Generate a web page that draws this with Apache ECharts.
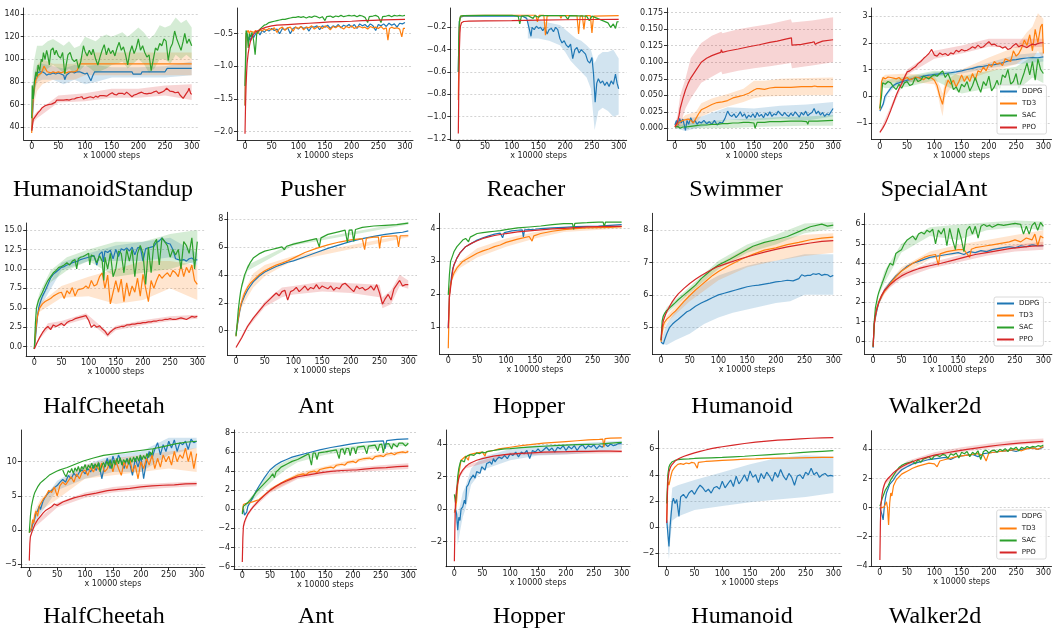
<!DOCTYPE html>
<html><head><meta charset="utf-8">
<script src="https://cdn.jsdelivr.net/npm/echarts@6/dist/echarts.min.js"></script>
<style>html,body{margin:0;padding:0;background:#fff}#c{width:1054px;height:630px}</style>
</head><body><div id="c"></div>
<script>
// ---------- shared ----------
const ALGOS = ['DDPG','TD3','SAC','PPO'];
const COLORS = ['#1f77b4','#ff7f0e','#2ca02c','#d62728'];
const BAND_FILLS = ['rgba(31,119,180,0.2)','rgba(255,127,14,0.2)','rgba(44,160,44,0.2)','rgba(214,39,40,0.2)'];
const X_TICKS = [0,50,100,150,200,250,300];
const X_LABEL = 'x 10000 steps';

// ---------- tick labels ----------
const hsYTicks=[40,60,80,100,120,140];
const puYTicks=[-2.0,-1.5,-1.0,-0.5];
const reYTicks=[-1.2,-1.0,-0.8,-0.6,-0.4,-0.2];
const swYTicks=[0,0.025,0.05,0.075,0.1,0.125,0.15,0.175];
const saYTicks=[-1,0,1,2,3];
const hc2YTicks=[0,2.5,5,7.5,10,12.5,15];
const ant2YTicks=[0,2,4,6,8];
const hop2YTicks=[1,2,3,4];
const hum2YTicks=[5,6,7,8];
const walk2YTicks=[0,1,2,3,4,5,6];
const hc3YTicks=[-5,0,5,10];
const ant3YTicks=[-6,-4,-2,0,2,4,6,8];
const hop3YTicks=[-2,0,2,4];
const hum3YTicks=[-2,0,2,4,6];
const walk3YTicks=[-4,-2,0,2,4];

// ---------- HumanoidStandup ----------
const hsDDPG=[[0,37],[2,55],[4,72],[6,81],[8,85],[10,88],[13,87],[16,89],[20,89],[24,88],[28,86],[32,87],[36,87],[40,88],[45,87],[50,88],[55,87],[60,86],[62,82],[65,86],[70,88],[75,89],[80,88],[85,89],[90,89],[95,88],[100,87],[104,88],[108,84],[111,81],[114,85],[118,89],[125,89],[150,89],[175,89],[188,89],[190,87],[205,87],[207,89],[250,89],[254,92],[300,92]];
const hsTD3=[[0,35],[2,60],[4,72],[6,78],[8,82],[10,84],[12,86],[15,85],[18,88],[20,90],[23,94],[26,93],[29,89],[32,90],[36,88],[40,89],[45,88],[50,89],[55,88],[60,89],[65,88],[70,89],[75,89],[80,89],[85,90],[88,91],[90,96],[95,96],[100,96],[150,96],[200,96],[250,96],[300,96]];
const hsSAC=[[0,48],[1,77],[3,65],[5,80],[8,89],[10,85],[12,95],[15,90],[18,100],[20,98],[22,106],[25,100],[28,108],[30,104],[33,95],[36,108],[40,110],[43,104],[46,108],[50,103],[54,101],[58,106],[62,87],[65,96],[68,104],[72,106],[76,100],[80,98],[84,100],[88,92],[92,98],[97,112],[100,107],[104,103],[108,108],[112,104],[115,109],[120,100],[124,95],[128,102],[132,108],[136,113],[140,104],[144,110],[148,105],[152,108],[156,103],[160,110],[164,115],[168,108],[172,111],[176,104],[180,95],[184,106],[188,112],[192,105],[196,110],[200,118],[204,108],[208,112],[212,106],[216,102],[220,104],[224,90],[228,100],[232,110],[236,108],[240,114],[244,112],[248,118],[252,116],[256,99],[260,110],[264,114],[268,125],[272,118],[276,113],[280,108],[284,116],[287,123],[291,114],[295,118],[300,112]];
const hsPPO=[[0,37],[1,40],[3,47],[6,49],[9,51],[12,53],[16,55],[19,57],[22,58],[25,59],[28,60.5],[31,60],[34,61],[37,60.5],[40,62],[44,62],[47,64],[50,65.5],[53,64],[56,63],[60,64],[63,63.5],[66,64.5],[70,64],[73,65.5],[76,65],[80,65],[84,66],[87,65],[90,66.5],[94,67],[97,65],[100,66],[103,66],[106,65],[110,67],[113,67],[116,66],[120,67.5],[124,66.5],[128,68],[131,69.5],[135,68],[138,67],[141,67.5],[145,69],[148,70],[151,70.5],[155,69],[159,68.5],[163,70],[166,69],[170,70],[174,69],[178,71],[182,69.5],[185,68],[188,67],[192,68.5],[196,69],[200,70],[203,70.5],[206,71],[210,70],[213,69],[216,69.5],[220,70],[224,70],[228,71],[231,71.5],[234,72],[238,70],[241,70.5],[244,71],[248,72],[251,73],[253,74.5],[256,73],[259,72],[262,73],[265,71.5],[269,70.5],[272,70],[275,71],[278,68.5],[281,67],[284,65.5],[287,67],[290,70],[293,72],[295,74.5],[298,70],[300,69]];
const hsDDPGBand=[[0,36,38],[2,50,60],[5,70,88],[10,80,95],[20,82,96],[40,82,94],[60,78,92],[80,82,95],[100,78,94],[120,80,95],[150,84,93],[200,84,93],[250,84,94],[300,86,98]];
const hsTD3Band=[[0,35,36],[2,55,65],[5,62,85],[10,72,95],[20,78,100],[30,80,98],[40,82,96],[60,82,96],[80,82,96],[90,84,100],[100,86,106],[150,86,106],[200,86,106],[250,86,106],[300,86,106]];
const hsSACBand=[[0,46,50],[2,60,90],[5,70,100],[10,82,112],[20,88,112],[30,92,116],[40,95,118],[50,92,115],[60,88,112],[70,92,116],[80,88,110],[90,90,112],[100,95,120],[110,92,118],[120,88,116],[130,90,120],[140,92,122],[150,95,120],[160,96,122],[170,98,124],[180,92,120],[190,96,124],[200,100,128],[210,96,124],[220,88,118],[230,92,122],[240,100,130],[250,100,128],[260,96,130],[270,104,137],[280,100,132],[290,104,135],[300,100,128]];
const hsPPOBand=[[0,35,40],[3,44,50],[10,48,54],[50,62,68],[100,63,70],[150,66,74],[200,66,74],[250,68,77],[300,64,78]];

// ---------- Pusher ----------
const puDDPG=[[0,-1.6],[2,-0.55],[4,-0.5],[6,-0.6],[8,-0.55],[10,-0.62],[13,-0.5],[16,-0.56],[20,-0.5],[24,-0.46],[28,-0.52],[32,-0.45],[36,-0.48],[40,-0.44],[45,-0.46],[50,-0.42],[55,-0.45],[60,-0.43],[65,-0.5],[70,-0.42],[75,-0.44],[80,-0.41],[85,-0.5],[90,-0.42],[95,-0.4],[100,-0.43],[105,-0.39],[110,-0.42],[115,-0.4],[120,-0.46],[125,-0.39],[130,-0.4],[135,-0.38],[140,-0.44],[145,-0.38],[150,-0.4],[155,-0.37],[160,-0.42],[165,-0.38],[170,-0.4],[175,-0.36],[180,-0.41],[185,-0.37],[190,-0.39],[195,-0.36],[200,-0.4],[205,-0.36],[210,-0.42],[215,-0.35],[220,-0.38],[225,-0.36],[230,-0.4],[235,-0.35],[240,-0.38],[245,-0.45],[250,-0.36],[255,-0.38],[260,-0.35],[265,-0.39],[270,-0.34],[275,-0.37],[280,-0.35],[285,-0.4],[290,-0.34],[295,-0.35],[300,-0.33]];
const puTD3=[[0,-1.6],[2,-0.5],[4,-0.48],[6,-0.45],[8,-0.5],[10,-0.46],[13,-0.44],[16,-0.48],[20,-0.45],[24,-0.5],[28,-0.44],[32,-0.46],[36,-0.43],[40,-0.45],[45,-0.42],[50,-0.44],[55,-0.41],[60,-0.48],[65,-0.42],[70,-0.4],[75,-0.45],[80,-0.41],[85,-0.4],[90,-0.46],[95,-0.4],[100,-0.42],[105,-0.39],[110,-0.44],[115,-0.4],[120,-0.41],[125,-0.38],[130,-0.43],[135,-0.4],[140,-0.39],[145,-0.42],[150,-0.38],[155,-0.4],[160,-0.44],[165,-0.39],[170,-0.41],[175,-0.38],[180,-0.4],[185,-0.43],[190,-0.39],[195,-0.41],[200,-0.38],[205,-0.42],[210,-0.4],[215,-0.39],[220,-0.41],[225,-0.4],[230,-0.43],[235,-0.39],[240,-0.41],[245,-0.4],[250,-0.42],[255,-0.39],[260,-0.43],[265,-0.41],[268,-0.6],[271,-0.42],[275,-0.4],[280,-0.42],[285,-0.41],[290,-0.43],[294,-0.55],[297,-0.42],[300,-0.42]];
const puSAC=[[0,-1.3],[2,-0.45],[4,-0.5],[6,-0.72],[8,-0.5],[10,-0.55],[13,-0.48],[16,-0.6],[19,-0.82],[22,-0.5],[25,-0.47],[28,-0.43],[32,-0.4],[36,-0.37],[40,-0.36],[45,-0.33],[50,-0.32],[55,-0.31],[60,-0.3],[65,-0.29],[70,-0.28],[75,-0.28],[80,-0.27],[85,-0.26],[90,-0.25],[95,-0.25],[100,-0.24],[105,-0.25],[110,-0.24],[115,-0.26],[120,-0.24],[125,-0.25],[130,-0.23],[135,-0.24],[140,-0.26],[145,-0.24],[150,-0.3],[153,-0.24],[160,-0.23],[165,-0.25],[170,-0.23],[175,-0.24],[180,-0.22],[185,-0.24],[190,-0.23],[195,-0.22],[200,-0.23],[205,-0.22],[210,-0.24],[215,-0.22],[220,-0.23],[225,-0.25],[230,-0.33],[233,-0.24],[240,-0.23],[245,-0.22],[250,-0.24],[255,-0.33],[258,-0.24],[265,-0.23],[270,-0.22],[275,-0.24],[280,-0.22],[285,-0.23],[290,-0.22],[295,-0.23],[300,-0.22]];
const puPPO=[[0,-2.03],[1,-1.6],[2,-1.3],[3,-1.1],[4,-0.95],[6,-0.8],[8,-0.7],[10,-0.62],[15,-0.52],[20,-0.47],[25,-0.45],[30,-0.43],[40,-0.4],[50,-0.38],[60,-0.37],[80,-0.36],[100,-0.35],[120,-0.34],[140,-0.33],[160,-0.32],[180,-0.315],[200,-0.31],[220,-0.3],[240,-0.295],[260,-0.29],[280,-0.285],[300,-0.28]];

// ---------- Reacher ----------
const reDDPG=[[0,-0.6],[1,-0.3],[2,-0.15],[4,-0.11],[6,-0.105],[10,-0.1],[50,-0.1],[100,-0.1],[120,-0.1],[128,-0.12],[132,-0.2],[136,-0.28],[138,-0.2],[142,-0.22],[146,-0.19],[150,-0.21],[154,-0.2],[158,-0.23],[162,-0.2],[166,-0.26],[170,-0.22],[174,-0.21],[178,-0.24],[182,-0.2],[186,-0.22],[190,-0.3],[194,-0.34],[198,-0.32],[202,-0.36],[206,-0.38],[210,-0.35],[214,-0.48],[218,-0.4],[222,-0.38],[226,-0.43],[230,-0.4],[234,-0.42],[238,-0.44],[242,-0.5],[246,-0.52],[250,-0.47],[253,-0.62],[256,-0.87],[259,-0.7],[262,-0.66],[266,-0.7],[270,-0.68],[274,-0.72],[278,-0.69],[282,-0.73],[286,-0.68],[290,-0.71],[294,-0.62],[297,-0.7],[300,-0.75]];
const reTD3=[[0,-0.85],[1,-0.5],[2,-0.2],[3,-0.12],[5,-0.1],[10,-0.095],[50,-0.093],[100,-0.092],[110,-0.092],[113,-0.1],[116,-0.092],[145,-0.092],[148,-0.15],[151,-0.093],[160,-0.093],[163,-0.27],[166,-0.1],[170,-0.095],[190,-0.095],[192,-0.12],[194,-0.095],[222,-0.095],[225,-0.26],[228,-0.1],[232,-0.095],[235,-0.22],[238,-0.095],[247,-0.095],[250,-0.25],[253,-0.1],[300,-0.095]];
const reSAC=[[0,-0.6],[1,-0.3],[2,-0.15],[4,-0.1],[10,-0.095],[50,-0.093],[100,-0.092],[112,-0.1],[115,-0.17],[118,-0.1],[130,-0.095],[140,-0.12],[143,-0.095],[150,-0.11],[155,-0.095],[200,-0.095],[205,-0.13],[208,-0.095],[240,-0.1],[245,-0.14],[250,-0.1],[260,-0.12],[270,-0.14],[280,-0.16],[285,-0.2],[290,-0.17],[294,-0.21],[297,-0.15],[300,-0.15]];
const rePPO=[[0,-1.15],[1,-0.7],[2,-0.4],[3,-0.25],[4,-0.19],[6,-0.16],[8,-0.15],[10,-0.148],[20,-0.145],[50,-0.142],[100,-0.14],[150,-0.135],[200,-0.132],[250,-0.13],[300,-0.128]];
const reDDPGBand=[[130,-0.3,-0.12],[150,-0.3,-0.14],[170,-0.32,-0.16],[190,-0.36,-0.18],[200,-0.42,-0.22],[210,-0.5,-0.26],[220,-0.55,-0.3],[230,-0.6,-0.32],[240,-0.65,-0.36],[248,-0.75,-0.4],[255,-1.12,-0.52],[262,-0.95,-0.45],[270,-0.92,-0.42],[280,-0.95,-0.42],[290,-1.0,-0.4],[300,-0.98,-0.48]];

// ---------- Swimmer ----------
const swDDPG=[[0,0.005],[3,0.012],[6,0.005],[9,0.015],[12,0.008],[15,0.014],[18,0.004],[20,-0.003],[23,0.012],[26,0.006],[30,0.016],[34,0.008],[38,0.012],[42,0.006],[46,0.01],[50,0.008],[55,0.012],[60,0.007],[65,0.01],[70,0.006],[75,0.012],[80,0.005],[85,0.009],[90,0.008],[95,0.015],[100,0.026],[104,0.02],[108,0.018],[112,0.022],[116,0.016],[120,0.02],[124,0.025],[128,0.018],[132,0.022],[136,0.015],[140,0.02],[144,0.017],[148,0.022],[152,0.016],[156,0.024],[160,0.018],[164,0.021],[168,0.016],[172,0.023],[176,0.019],[180,0.025],[184,0.018],[188,0.022],[192,0.02],[196,0.026],[200,0.022],[204,0.019],[208,0.024],[212,0.02],[216,0.018],[220,0.023],[224,0.019],[228,0.025],[232,0.021],[236,0.017],[240,0.024],[244,0.02],[248,0.026],[252,0.019],[256,0.022],[260,0.024],[264,0.03],[268,0.022],[272,0.026],[276,0.02],[280,0.024],[284,0.018],[288,0.022],[292,0.02],[296,0.025],[300,0.03]];
const swTD3=[[0,0.003],[5,0.006],[10,0.01],[15,0.012],[20,0.013],[25,0.014],[30,0.012],[35,0.008],[40,0.015],[45,0.022],[50,0.028],[55,0.03],[60,0.032],[70,0.036],[80,0.039],[90,0.04],[100,0.042],[110,0.046],[120,0.048],[130,0.05],[140,0.053],[150,0.058],[155,0.06],[160,0.06],[170,0.059],[180,0.061],[190,0.062],[200,0.062],[220,0.062],[240,0.063],[260,0.063],[265,0.064],[270,0.063],[280,0.063],[300,0.063]];
const swSAC=[[0,0.002],[5,0.003],[10,0.0],[15,0.002],[20,0.002],[30,0.003],[40,0.004],[50,0.005],[60,0.005],[70,0.006],[80,0.006],[90,0.007],[100,0.007],[110,0.008],[120,0.008],[130,0.009],[140,0.009],[150,0.008],[152,0.0],[154,0.0],[156,0.009],[170,0.009],[180,0.01],[200,0.01],[220,0.011],[240,0.011],[250,0.01],[252,0.006],[254,0.011],[270,0.011],[300,0.012]];
const swPPO=[[0,0.002],[3,0.004],[5,0.01],[8,0.02],[10,0.03],[15,0.045],[20,0.058],[25,0.068],[30,0.076],[40,0.088],[50,0.1],[60,0.106],[70,0.11],[80,0.113],[87,0.115],[88,0.119],[90,0.115],[100,0.117],[120,0.12],[140,0.1235],[160,0.1265],[180,0.13],[194,0.132],[196,0.129],[200,0.133],[210,0.135],[221,0.137],[222,0.126],[240,0.127],[260,0.13],[264,0.131],[266,0.127],[270,0.129],[280,0.132],[300,0.134]];
const swDDPGBand=[[0,0,0.01],[20,-0.004,0.015],[50,0.002,0.018],[100,0.013,0.032],[150,0.012,0.03],[200,0.015,0.034],[250,0.012,0.036],[300,0.018,0.04]];
const swTD3Band=[[0,0,0.005],[20,0.005,0.02],[40,0.008,0.025],[50,0.018,0.038],[70,0.025,0.045],[100,0.033,0.052],[130,0.04,0.06],[150,0.046,0.072],[170,0.048,0.072],[200,0.049,0.075],[250,0.05,0.076],[300,0.05,0.077]];
const swSACBand=[[0,0,0.004],[50,0,0.01],[100,0.0,0.013],[150,0.002,0.015],[200,0.003,0.017],[250,0.004,0.018],[300,0.004,0.02]];
const swPPOBand=[[0,0,0.005],[5,0.0,0.02],[10,0.005,0.05],[20,0.03,0.075],[30,0.045,0.106],[50,0.069,0.129],[70,0.078,0.14],[88,0.086,0.146],[90,0.082,0.144],[120,0.087,0.15],[150,0.091,0.154],[180,0.094,0.158],[220,0.099,0.165],[222,0.091,0.16],[260,0.095,0.163],[300,0.1,0.168]];

// ---------- SpecialAnt ----------
const saDDPG=[[0,-0.55],[3,-0.6],[6,-0.3],[9,-0.02],[12,0.08],[15,0.16],[18,0.25],[21,0.33],[25,0.4],[30,0.47],[35,0.5],[40,0.54],[45,0.57],[50,0.6],[55,0.62],[60,0.66],[65,0.68],[70,0.7],[75,0.72],[80,0.75],[85,0.77],[90,0.79],[95,0.8],[100,0.82],[110,0.84],[120,0.85],[130,0.88],[140,0.91],[150,0.95],[160,1.0],[170,1.04],[180,1.1],[190,1.12],[200,1.16],[210,1.18],[220,1.22],[230,1.28],[240,1.35],[250,1.37],[260,1.41],[270,1.43],[280,1.45],[290,1.44],[300,1.47]];
const saTD3=[[0,-0.5],[3,0.54],[6,0.7],[10,0.65],[15,0.72],[20,0.7],[25,0.68],[30,0.65],[35,0.7],[40,0.6],[45,0.66],[50,0.7],[55,0.62],[60,0.65],[65,0.72],[70,0.7],[75,0.66],[80,0.62],[85,0.7],[90,0.72],[95,0.68],[100,0.6],[105,0.4],[110,0.0],[115,-0.3],[118,-0.25],[120,0.3],[125,0.6],[130,0.45],[135,0.6],[140,0.35],[145,0.55],[150,0.8],[155,0.55],[160,0.75],[165,0.55],[170,0.85],[175,0.6],[180,0.95],[185,0.9],[190,1.1],[195,0.95],[200,1.2],[205,1.1],[210,1.3],[215,1.2],[220,1.25],[225,1.15],[230,1.4],[235,1.35],[240,1.3],[245,1.7],[250,1.5],[255,1.6],[260,1.8],[265,2.1],[270,1.9],[275,2.3],[280,1.7],[285,2.5],[290,2.0],[295,2.6],[298,2.7],[300,1.6]];
const saSAC=[[0,-0.45],[3,0.0],[5,0.5],[10,0.45],[15,0.55],[20,0.5],[25,0.35],[30,0.25],[35,0.45],[40,0.3],[45,0.5],[50,0.55],[55,0.4],[60,0.45],[65,0.7],[70,0.55],[75,0.6],[80,0.75],[85,0.7],[90,0.65],[95,0.75],[100,0.8],[105,0.75],[110,0.85],[115,0.95],[120,0.7],[125,0.85],[130,0.6],[135,0.25],[140,0.35],[145,0.15],[150,0.45],[155,0.35],[160,0.55],[165,0.2],[170,0.4],[175,0.7],[180,0.4],[185,0.15],[190,0.55],[195,0.4],[200,0.75],[205,0.2],[210,0.35],[215,0.6],[220,0.3],[225,0.8],[230,0.7],[235,1.0],[240,0.45],[245,0.55],[250,0.85],[255,0.3],[260,0.6],[265,0.9],[270,1.25],[275,0.8],[280,1.3],[285,0.6],[290,1.4],[295,1.0],[300,0.85]];
const saPPO=[[0,-1.35],[5,-1.2],[10,-1.02],[15,-0.78],[20,-0.52],[25,-0.24],[30,0.04],[35,0.27],[40,0.48],[45,0.7],[50,0.91],[55,0.95],[60,1.04],[65,1.1],[70,1.22],[75,1.3],[80,1.41],[85,1.5],[90,1.6],[95,1.75],[100,1.54],[105,1.5],[110,1.62],[115,1.55],[120,1.6],[125,1.52],[130,1.62],[135,1.58],[140,1.72],[145,1.66],[150,1.75],[155,1.7],[160,1.72],[165,1.78],[170,1.85],[175,1.8],[180,1.91],[185,1.82],[190,1.85],[195,1.95],[200,2.04],[205,1.92],[210,1.95],[215,1.88],[220,1.87],[225,1.8],[230,1.85],[235,1.75],[240,1.79],[245,1.9],[250,1.97],[255,1.85],[260,1.91],[265,1.86],[270,1.82],[275,1.9],[280,1.95],[285,1.92],[290,1.97],[295,2.0],[300,2.0]];
const saDDPGBand=[[0,-0.6,-0.5],[6,-0.4,-0.2],[15,0.08,0.24],[30,0.4,0.55],[50,0.5,0.7],[100,0.72,0.9],[150,0.85,1.0],[200,1.05,1.25],[250,1.2,1.55],[300,1.3,1.65]];
const saTD3Band=[[0,-0.55,-0.45],[3,0.4,0.7],[10,0.5,0.8],[50,0.55,0.85],[100,0.45,0.75],[105,0.2,0.6],[112,-0.5,0.3],[115,-0.75,0.1],[120,0.0,0.6],[130,0.3,0.7],[150,0.55,1.0],[200,0.9,1.45],[250,1.2,1.85],[270,1.5,2.4],[280,1.4,2.6],[290,1.7,3.1],[300,1.4,2.9]];
const saSACBand=[[0,-0.5,-0.4],[5,0.35,0.65],[10,0.3,0.6],[50,0.35,0.75],[100,0.6,0.95],[130,0.3,0.9],[150,0.1,0.75],[200,0.3,0.95],[250,0.2,1.1],[280,0.7,1.5],[300,0.5,1.4]];
const saPPOBand=[[0,-1.4,-1.3],[25,-0.35,-0.13],[50,0.8,1.0],[100,1.4,1.7],[150,1.6,1.9],[200,1.85,2.15],[250,1.8,2.15],[300,1.85,2.15]];

// ---------- HalfCheetah (row 2) ----------
const hc2DDPG=[[0,-0.3],[2,1],[4,2.5],[6,4],[8,5],[10,5.5],[15,6.5],[20,7.2],[25,8],[30,8.8],[35,9.3],[40,9.6],[45,9.9],[50,10.2],[55,10.3],[60,10.5],[65,10.6],[70,10.8],[75,10.9],[80,11],[85,11.2],[90,11.3],[95,11.4],[100,11.5],[105,11.6],[110,11.7],[115,10.5],[120,11.9],[125,12.2],[127,10.9],[130,12.3],[135,12.1],[140,12.4],[145,11.3],[150,12.5],[155,11.6],[160,12.6],[165,12.4],[170,12.7],[175,12.3],[180,12.8],[185,11.8],[190,12.7],[195,12.8],[200,11.0],[205,12.6],[210,12.7],[215,12.8],[220,12.9],[225,13.4],[230,13.6],[235,14.0],[240,13.5],[245,13.3],[250,13.2],[255,12.5],[260,11.3],[265,11.2],[270,11.1],[275,11.2],[280,11.0],[285,11.3],[290,11.4],[295,11.1],[300,11.2]];
const hc2TD3=[[0,-0.3],[2,1.5],[4,3],[6,4],[8,4.5],[10,5],[15,5.5],[20,5.8],[25,6],[30,6.2],[35,6.5],[40,6.7],[45,6.9],[50,7],[55,6.2],[60,7.2],[65,6.8],[70,7.6],[75,6.5],[80,7.3],[85,7.4],[90,7.5],[95,7.8],[100,7.5],[105,8.5],[110,7.8],[115,8],[120,9],[125,9.5],[130,7.5],[135,9.2],[140,5.5],[145,7],[150,8.5],[155,7],[160,8.7],[165,5.8],[170,8.2],[175,6.5],[180,7.8],[185,7],[190,8.8],[195,6.5],[200,9.3],[205,7.5],[210,5.8],[215,8.5],[220,7.5],[225,8.5],[230,9.3],[235,8.8],[240,9.2],[245,9.5],[250,9],[255,9.8],[260,9.5],[265,9],[270,10.5],[275,9],[280,10.2],[285,9.5],[290,10.5],[295,8.5],[300,8]];
const hc2SAC=[[0,-0.3],[2,3],[4,5],[6,5.5],[8,6],[10,6.2],[15,7],[20,7.8],[25,8.5],[30,9],[35,9.5],[40,9.8],[45,10.2],[50,10.3],[55,10.5],[60,10.8],[65,10.5],[70,11],[75,11.2],[78,10.0],[81,11.3],[85,11.5],[90,11.6],[95,11.8],[100,12],[102,10.5],[105,11.8],[110,11.6],[115,10.8],[120,11.7],[125,11],[128,8.5],[130,11.5],[135,10],[140,12],[145,9],[150,10],[155,12.3],[160,12],[165,9.5],[170,12.5],[175,11],[180,12.5],[185,9],[190,12],[195,13],[200,12],[205,8],[210,12.8],[215,9.5],[220,13.2],[225,13.8],[230,10.5],[235,14],[240,13.5],[245,13],[250,11.5],[255,12.5],[260,11.8],[265,12.5],[270,10],[275,13.5],[280,13],[285,12],[290,14],[295,10],[300,13.5]];
const hc2PPO=[[0,-0.3],[5,0.5],[10,1.2],[15,1.8],[20,2.3],[25,2.6],[30,2.2],[35,2.8],[40,2.6],[45,2.8],[50,3],[55,2.7],[60,3.1],[65,3.3],[70,3.4],[75,3.6],[80,3.7],[85,3.8],[90,3.9],[95,4.0],[100,3.4],[105,2.5],[110,2.8],[115,2.5],[120,2.7],[125,2.3],[130,2.0],[135,1.5],[140,1.9],[145,2.2],[150,2.4],[155,2.5],[160,2.6],[165,2.6],[170,2.8],[175,2.8],[180,2.9],[185,2.9],[190,3.0],[195,3.0],[200,3.1],[205,3.1],[210,3.2],[215,3.2],[220,3.3],[225,3.3],[230,3.4],[235,3.4],[240,3.5],[245,3.5],[250,3.6],[255,3.5],[260,3.5],[265,3.6],[270,3.7],[275,3.6],[280,3.5],[285,3.7],[290,3.9],[295,3.8],[300,3.9]];
const hc2DDPGBand=[[0,-0.3,-0.2],[2,0.8,1.2],[4,2.2,2.8],[6,3.6,4.4],[10,5,6],[50,9.8,10.8],[100,11,12],[150,11,13],[200,11,13.5],[250,11.5,14],[300,10.5,12]];
const hc2TD3Band=[[0,-0.3,-0.2],[2,1.2,1.8],[4,2.6,3.4],[6,3.5,4.5],[10,4.5,5.6],[50,6.3,7.8],[100,6.5,9],[150,5.5,10],[200,6,11],[250,7.5,11],[300,6,10.5]];
const hc2SACBand=[[0,-0.3,-0.2],[2,2.6,3.4],[4,4.5,5.5],[6,5,6],[10,5.5,7],[30,8.3,9.8],[60,9.8,11.5],[100,11,12.5],[150,9,13.5],[200,9.5,13.5],[250,10,14.5],[300,11,15]];
const hc2PPOBand=[[0,-0.3,-0.2],[10,1.0,1.4],[25,2.2,3],[50,2.7,3.3],[95,3.6,4.3],[135,1.2,1.9],[150,2.1,2.7],[200,2.8,3.4],[250,3.3,3.9],[300,3.6,4.1]];

// ---------- Ant (row 2) ----------
const ant2DDPG=[[0,-0.3],[2,0.3],[4,0.8],[6,1.3],[8,1.7],[10,2.0],[15,2.5],[20,2.9],[25,3.2],[30,3.5],[40,3.9],[50,4.2],[60,4.4],[70,4.6],[80,4.75],[90,4.9],[100,5.0],[120,5.3],[140,5.6],[160,5.9],[180,6.15],[200,6.4],[220,6.6],[240,6.75],[260,6.9],[270,6.95],[280,7.0],[290,7.05],[300,7.15]];
const ant2TD3=[[0,-0.4],[2,0.4],[4,0.9],[6,1.4],[8,1.8],[10,2.1],[15,2.7],[20,3.1],[25,3.4],[30,3.6],[40,4.0],[50,4.3],[60,4.5],[70,4.7],[80,4.85],[90,5.0],[100,5.2],[120,5.6],[140,5.9],[160,6.15],[180,6.35],[200,6.5],[220,6.6],[224,5.8],[227,6.62],[240,6.7],[248,6.7],[250,5.9],[253,6.72],[260,6.75],[280,6.8],[283,6.0],[286,6.8],[300,6.8]];
const ant2SAC=[[0,-0.4],[2,0.5],[4,1.5],[6,2.2],[8,2.8],[10,3.2],[15,4.0],[20,4.5],[25,4.9],[30,5.2],[40,5.5],[50,5.7],[60,5.8],[70,5.9],[80,6.0],[84,5.8],[88,6.05],[100,6.2],[120,6.4],[140,6.6],[145,6.0],[148,6.65],[160,6.9],[180,7.1],[190,7.2],[194,6.3],[197,7.2],[202,7.22],[205,6.4],[208,7.25],[220,7.4],[240,7.5],[260,7.55],[280,7.6],[300,7.7]];
const ant2PPO=[[0,-1.2],[10,-0.5],[20,0.3],[30,0.9],[40,1.4],[50,1.9],[60,2.3],[65,2.5],[70,2.7],[75,2.5],[80,2.8],[85,2.9],[90,2.2],[95,2.8],[100,2.9],[105,3.1],[110,2.8],[115,3.0],[120,3.2],[125,2.9],[130,3.1],[135,3.0],[140,3.3],[145,3.0],[150,3.2],[155,3.1],[160,3.0],[165,3.2],[170,2.9],[175,3.1],[180,3.0],[185,3.3],[190,3.4],[195,3.2],[200,3.0],[205,2.8],[210,3.2],[215,3.0],[220,3.1],[225,2.9],[230,3.0],[235,3.2],[240,2.9],[245,3.3],[250,2.7],[255,1.9],[260,2.3],[265,2.6],[270,2.2],[275,3.0],[280,3.3],[285,3.6],[290,3.2],[295,3.3],[300,3.3]];
const ant2TD3Band=[[0,-0.4,-0.3],[4,0.7,1.1],[10,1.7,2.5],[30,3.1,4.1],[50,3.9,4.7],[80,4.6,5.1],[100,5.0,5.35],[300,6.7,6.9]];
const ant2SACBand=[[0,-0.4,-0.3],[4,1.3,1.7],[10,3.0,3.4],[20,4.3,4.7],[100,6.1,6.3],[300,7.6,7.8]];
const ant2PPOBand=[[0,-1.2,-1.1],[20,0.15,0.45],[50,1.7,2.1],[80,2.4,3.1],[100,2.6,3.2],[150,2.8,3.5],[200,2.7,3.4],[250,2.4,3.3],[255,1.6,2.4],[270,1.9,2.9],[285,3.2,4.0],[300,3.0,3.6]];

// ---------- Hopper (row 2) ----------
const hop2DDPG=[[0,0.96],[2,2.0],[4,2.3],[6,2.6],[8,2.8],[10,2.9],[15,3.1],[20,3.25],[25,3.35],[30,3.45],[40,3.55],[50,3.65],[60,3.72],[70,3.78],[80,3.83],[90,3.86],[94,3.72],[97,3.88],[100,3.9],[110,3.93],[120,3.95],[128,3.96],[130,3.75],[132,3.96],[140,3.97],[150,3.98],[160,4.0],[180,4.02],[200,4.04],[220,4.06],[240,4.07],[260,4.08],[280,4.1],[300,4.12]];
const hop2TD3=[[0,0.35],[2,2.0],[4,2.3],[6,2.45],[8,2.55],[10,2.65],[15,2.8],[20,2.9],[25,3.0],[30,3.05],[40,3.15],[50,3.25],[60,3.32],[70,3.38],[80,3.45],[90,3.5],[100,3.58],[120,3.68],[140,3.76],[145,3.62],[148,3.78],[160,3.85],[180,3.92],[200,3.97],[220,4.0],[240,4.02],[260,4.03],[280,4.04],[300,4.06]];
const hop2SAC=[[0,1.98],[2,2.6],[4,3.0],[6,3.1],[8,3.2],[10,3.3],[15,3.45],[20,3.55],[25,3.65],[30,3.7],[35,3.6],[38,3.74],[40,3.78],[50,3.85],[60,3.88],[70,3.9],[80,3.92],[90,3.94],[100,3.97],[120,4.02],[140,4.05],[160,4.08],[180,4.12],[200,4.15],[215,4.15],[217,3.98],[219,4.16],[240,4.18],[260,4.2],[268,4.2],[270,4.05],[272,4.2],[300,4.2]];
const hop2PPO=[[0,0.96],[2,1.9],[4,2.2],[6,2.5],[8,2.75],[10,2.9],[15,3.1],[20,3.25],[25,3.35],[30,3.45],[40,3.55],[50,3.63],[60,3.7],[70,3.75],[80,3.79],[90,3.82],[100,3.85],[120,3.9],[140,3.93],[160,3.96],[180,3.99],[200,4.01],[220,4.03],[240,4.05],[260,4.06],[280,4.07],[300,4.07]];
const hop2TD3Band=[[0,0.35,0.4],[2,1.9,2.1],[6,2.35,2.55],[10,2.55,2.75],[20,2.8,3.0],[50,3.12,3.4],[100,3.45,3.7],[150,3.7,3.9],[200,3.9,4.03],[300,4.0,4.12]];

// ---------- Humanoid (row 2) ----------
const hum2DDPG=[[0,4.55],[2,4.5],[4,4.48],[6,4.6],[8,4.7],[10,4.8],[15,5.0],[20,5.1],[25,5.18],[30,5.25],[40,5.4],[45,5.48],[50,5.52],[60,5.65],[70,5.75],[80,5.83],[90,5.92],[100,6.0],[110,6.05],[120,6.1],[130,6.15],[140,6.2],[150,6.25],[160,6.28],[170,6.3],[180,6.33],[190,6.36],[200,6.4],[210,6.42],[220,6.45],[230,6.43],[240,6.5],[245,6.62],[250,6.58],[255,6.6],[260,6.6],[265,6.65],[270,6.63],[275,6.66],[280,6.6],[285,6.63],[290,6.62],[295,6.56],[300,6.6]];
const hum2TD3=[[0,4.55],[2,4.85],[4,5.05],[6,5.15],[8,5.2],[10,5.25],[15,5.33],[20,5.42],[25,5.5],[30,5.6],[40,5.8],[50,5.98],[60,6.15],[70,6.3],[80,6.45],[90,6.6],[100,6.72],[120,6.92],[140,7.1],[160,7.25],[180,7.38],[200,7.45],[220,7.55],[240,7.62],[260,7.7],[280,7.75],[300,7.78]];
const hum2SAC=[[0,4.6],[2,5.2],[4,5.35],[6,5.42],[8,5.48],[10,5.52],[15,5.6],[20,5.68],[25,5.76],[30,5.85],[40,6.0],[50,6.15],[60,6.3],[70,6.5],[80,6.65],[90,6.8],[100,6.92],[120,7.1],[140,7.3],[160,7.5],[180,7.62],[200,7.7],[220,7.8],[240,7.95],[260,8.1],[280,8.18],[290,8.12],[300,8.15]];
const hum2PPO=[[0,4.6],[2,5.0],[4,5.2],[6,5.3],[8,5.4],[10,5.48],[15,5.65],[20,5.8],[25,5.92],[30,6.03],[40,6.2],[50,6.35],[60,6.48],[70,6.6],[80,6.7],[90,6.8],[100,6.88],[120,7.0],[140,7.12],[160,7.22],[180,7.32],[200,7.4],[220,7.48],[240,7.54],[260,7.6],[280,7.65],[300,7.67]];
const hum2DDPGBand=[[0,4.5,4.6],[10,4.45,5.1],[25,4.6,5.5],[50,4.8,6.0],[75,5.1,6.35],[100,5.3,6.6],[125,5.45,6.75],[150,5.55,6.9],[175,5.65,7.0],[200,5.75,7.05],[225,5.8,7.15],[250,6.0,7.25],[275,6.0,7.25],[300,6.0,7.25]];
const hum2TD3Band=[[0,4.5,4.6],[2,4.75,4.95],[10,5.15,5.35],[50,5.8,6.15],[100,6.45,6.95],[150,6.85,7.45],[200,7.05,7.7],[250,7.2,7.85],[300,7.3,7.9]];
const hum2SACBand=[[0,4.55,4.65],[2,5.1,5.3],[10,5.42,5.62],[25,5.66,5.86],[50,6.05,6.25],[100,6.8,7.05],[150,7.3,7.55],[200,7.55,7.85],[250,7.9,8.2],[300,8.05,8.25]];

// ---------- Walker2d (row 2) ----------
const walk2DDPG=[[0,-0.35],[2,0.9],[4,1.2],[6,1.5],[8,1.75],[10,1.95],[15,2.3],[20,2.6],[25,2.8],[30,3.0],[40,3.35],[50,3.6],[60,3.85],[70,4.0],[80,4.1],[90,4.2],[100,4.3],[110,4.35],[120,4.4],[130,4.45],[140,4.5],[150,4.55],[160,4.45],[170,4.6],[180,4.55],[190,4.65],[200,4.6],[210,4.7],[220,4.75],[230,4.8],[240,4.85],[250,4.8],[260,4.9],[270,4.85],[280,4.95],[290,4.9],[300,4.9]];
const walk2TD3=[[0,-0.3],[2,0.8],[4,1.3],[6,1.6],[8,1.8],[10,2.0],[15,2.3],[20,2.55],[25,2.75],[30,2.95],[40,3.3],[50,3.6],[60,3.8],[70,4.0],[80,4.15],[90,4.3],[100,4.4],[110,4.45],[115,3.9],[118,4.48],[120,4.5],[130,4.6],[140,4.65],[150,4.7],[160,4.7],[170,4.3],[173,4.72],[180,4.8],[190,4.85],[200,4.9],[210,4.95],[220,5.0],[230,5.05],[240,5.1],[250,5.2],[260,5.1],[270,5.3],[280,5.2],[285,5.5],[290,4.9],[295,5.4],[300,5.3]];
const walk2SAC=[[0,-0.3],[2,1.0],[4,1.7],[6,2.0],[8,2.3],[10,2.5],[15,2.9],[20,3.3],[25,3.7],[30,4.0],[35,3.9],[40,4.5],[45,4.6],[50,4.7],[55,5.0],[60,5.2],[65,5.3],[70,5.4],[75,5.2],[80,5.5],[85,5.6],[90,5.5],[95,5.7],[100,5.6],[105,5.75],[110,5.0],[115,5.7],[120,5.5],[125,5.8],[130,4.9],[135,5.8],[140,5.2],[145,4.7],[150,5.8],[155,5.3],[160,4.6],[165,5.7],[170,5.9],[175,5.5],[180,5.9],[185,5.3],[190,5.9],[195,6.0],[200,5.9],[205,5.95],[210,5.85],[220,6.0],[230,5.95],[240,6.0],[250,6.05],[260,6.0],[265,5.5],[270,5.9],[275,5.5],[280,5.95],[285,6.1],[290,5.7],[295,6.1],[300,5.9]];
const walk2PPO=[[0,-0.3],[2,0.9],[4,1.3],[6,1.6],[8,1.8],[10,2.0],[15,2.35],[20,2.6],[25,2.75],[30,2.9],[40,3.15],[50,3.35],[60,3.5],[70,3.62],[80,3.72],[90,3.8],[100,3.87],[120,4.0],[140,4.15],[160,4.3],[180,4.45],[200,4.55],[220,4.65],[240,4.75],[260,4.82],[280,4.88],[300,4.9]];
const walk2TD3Band=[[0,-0.3,-0.2],[2,0.7,0.9],[10,1.85,2.15],[20,2.4,2.7],[30,2.8,3.1],[50,3.4,3.8],[100,4.2,4.6],[150,4.45,4.95],[200,4.6,5.2],[250,4.9,5.45],[300,4.9,5.7]];
const walk2SACBand=[[0,-0.3,-0.2],[2,0.9,1.1],[10,2.35,2.65],[20,3.0,3.6],[50,4.55,5.0],[100,5.4,5.85],[150,5.2,6.0],[200,5.7,6.1],[250,5.85,6.2],[300,5.7,6.15]];
const walk2PPOBand=[[0,-0.3,-0.2],[2,0.8,1.0],[10,1.9,2.1],[20,2.45,2.75],[30,2.75,3.05],[50,3.2,3.5],[100,3.72,4.02],[150,4.05,4.4],[200,4.38,4.7],[250,4.6,4.95],[300,4.7,5.1]];

// ---------- HalfCheetah (row 3) ----------
const hc3DDPG=[[0,-0.4],[2,-0.5],[4,0.0],[6,0.8],[8,1.2],[10,1.7],[12,2.5],[15,2.8],[18,3.5],[20,3.0],[25,4.3],[30,5.0],[35,5.5],[40,5.8],[45,6.2],[50,6.5],[55,7.0],[60,7.4],[65,7.0],[70,8.0],[75,7.5],[80,8.3],[85,7.8],[90,8.5],[95,8.8],[100,8.2],[105,9.0],[110,8.5],[115,9.5],[120,8.7],[125,9.8],[130,7.5],[135,9.5],[140,10.5],[145,9.0],[150,10.8],[155,9.5],[160,11.0],[165,10.0],[170,9.0],[175,10.5],[180,9.8],[185,8.0],[190,10.5],[195,9.2],[200,10.8],[205,7.5],[210,10.0],[215,11.5],[220,10.5],[225,11.8],[230,12.8],[235,11.0],[240,12.5],[245,11.5],[250,13.0],[255,12.0],[260,13.2],[265,11.5],[270,12.8],[275,12.5],[280,13.0],[285,11.8],[290,13.3],[295,12.8],[300,13.0]];
const hc3TD3=[[0,-0.4],[2,-0.3],[4,0.3],[6,1.5],[8,1.0],[10,2.2],[12,2.8],[15,2.0],[18,3.5],[20,3.8],[25,4.5],[30,5.0],[35,5.8],[40,5.5],[45,6.3],[50,5.0],[55,6.5],[60,7.0],[65,6.6],[70,7.2],[75,7.8],[80,7.0],[85,8.2],[90,7.5],[95,8.5],[100,8.8],[105,8.0],[110,9.2],[115,8.5],[120,9.5],[125,8.8],[130,9.8],[135,8.5],[140,9.0],[145,10.0],[150,8.5],[155,10.2],[160,9.0],[165,8.0],[170,10.0],[175,9.0],[180,10.5],[185,8.5],[190,9.5],[195,7.5],[200,10.0],[205,9.0],[210,10.5],[215,9.5],[220,11.0],[225,9.0],[230,10.5],[235,9.2],[240,11.0],[245,10.0],[250,10.8],[255,9.5],[260,11.5],[265,10.0],[270,11.0],[275,10.5],[280,12.0],[285,10.0],[290,11.5],[295,9.0],[300,11.2]];
const hc3SAC=[[0,-0.4],[2,2.0],[4,3.5],[6,4.3],[8,5.0],[10,5.5],[15,6.3],[20,6.9],[25,7.25],[30,7.6],[37,8.1],[43,8.35],[49,8.6],[55,8.8],[61,8.97],[68,9.15],[80,9.55],[97,10.1],[115,10.55],[133,10.93],[222,11.9],[240,12.2],[264,12.65],[280,12.85],[300,13.0]];
const hc3SACNoisy=[[60,8.8],[63,8.2],[66,7.8],[70,8.7],[73,8.4],[76,9.0],[79,8.3],[82,9.1],[85,8.6],[88,9.3],[91,8.5],[94,9.3],[97,8.9],[100,9.6],[103,8.8],[106,9.5],[109,9.1],[112,9.8],[115,9.0],[118,9.7],[121,9.2],[124,9.9],[127,8.5],[130,9.4],[133,9.9],[136,9.2],[139,10.1],[142,9.4],[145,10.3],[148,9.0],[151,10.2],[154,9.6],[157,10.5],[160,9.7],[163,10.6],[166,9.5],[169,10.3],[172,9.9],[175,10.4],[178,9.6],[181,10.6],[184,9.9],[187,10.7],[190,10.0],[193,10.8],[196,10.1],[199,11.0],[202,10.3],[205,10.9],[208,10.4],[211,11.2],[214,10.6],[217,11.4],[220,11.0],[222,11.9]];
const hc3PPO=[[0,-4.5],[1,-2.0],[2,-1.0],[4,-0.5],[6,0.0],[8,0.4],[10,0.8],[15,1.5],[20,2.0],[25,2.5],[30,2.9],[40,3.4],[45,3.8],[50,3.6],[60,4.1],[70,4.4],[80,4.7],[90,4.9],[100,5.1],[120,5.4],[140,5.75],[160,5.95],[180,6.1],[200,6.3],[220,6.45],[240,6.55],[260,6.6],[280,6.75],[300,6.8]];
const hc3DDPGBand=[[0,-0.4,-0.3],[10,1.0,2.4],[20,2.3,3.8],[50,5.8,7.2],[100,7.5,9.5],[150,8.5,11],[200,8.5,11.5],[250,11,13.5],[300,12,13.5]];
const hc3TD3Band=[[0,-0.4,-0.3],[10,1.5,2.9],[20,2.8,4.5],[50,4.5,6.8],[100,7.5,9.5],[150,8,10.5],[200,8.5,11],[250,9,11.5],[300,8.5,12]];
const hc3PPOBand=[[0,-4.6,-4.4],[2,-1.2,-0.8],[4,-0.7,-0.3],[10,0.4,1.2],[50,3.3,4.0],[100,4.7,5.5],[150,5.5,6.3],[200,5.9,6.7],[250,6.2,6.9],[300,6.4,7.1]];

// ---------- Ant (row 3) ----------
const ant3DDPG=[[0,-0.4],[2,0.0],[4,-0.6],[6,-0.8],[8,-0.3],[10,0.3],[15,0.8],[20,1.3],[25,1.9],[30,2.4],[40,3.3],[50,4.1],[60,4.6],[70,4.95],[80,5.2],[90,5.45],[100,5.6],[120,5.9],[140,6.2],[160,6.45],[180,6.65],[200,6.85],[220,7.0],[240,7.1],[255,7.15],[258,6.3],[261,7.18],[280,7.3],[300,7.35]];
const ant3TD3=[[0,-0.3],[2,0.5],[4,0.55],[6,0.6],[8,0.62],[10,0.65],[15,0.72],[20,0.8],[25,0.9],[30,1.0],[40,1.5],[50,2.0],[60,2.4],[70,2.75],[80,3.05],[90,3.3],[100,3.55],[110,3.7],[115,3.55],[120,3.85],[130,4.0],[135,3.85],[140,4.15],[150,4.3],[160,4.4],[165,4.3],[170,4.6],[180,4.7],[185,4.6],[190,4.9],[200,5.0],[205,4.85],[210,5.15],[220,5.3],[230,5.35],[235,5.2],[240,5.5],[250,5.6],[255,5.5],[260,5.75],[270,5.85],[275,5.7],[280,5.9],[290,6.0],[295,5.9],[300,6.05]];
const ant3SAC=[[0,-0.5],[2,0.3],[4,0.5],[6,0.5],[8,0.6],[10,0.7],[15,1.0],[20,1.4],[25,1.8],[30,2.1],[40,2.7],[50,3.3],[55,3.7],[58,3.3],[61,3.9],[65,4.1],[70,4.4],[80,4.7],[90,5.0],[100,5.2],[110,5.5],[120,5.8],[123,5.85],[125,4.6],[128,5.9],[132,5.85],[135,5.2],[138,5.9],[150,6.0],[160,6.1],[170,6.2],[175,5.3],[178,6.25],[182,6.3],[185,5.7],[188,6.35],[192,6.35],[195,5.6],[198,6.4],[202,6.4],[205,5.8],[208,6.5],[220,6.6],[225,5.8],[228,6.6],[240,6.7],[245,6.1],[248,6.75],[252,6.8],[255,5.9],[258,6.8],[265,6.85],[270,6.3],[273,6.85],[280,6.5],[283,6.9],[290,6.9],[295,6.6],[300,6.9]];
const ant3PPO=[[0,-5.5],[1,-3.0],[2,-1.8],[4,-1.3],[6,-1.0],[8,-0.75],[10,-0.5],[15,-0.1],[20,0.28],[25,0.6],[30,0.9],[40,1.45],[50,1.96],[60,2.35],[70,2.7],[80,2.95],[90,3.2],[100,3.4],[120,3.6],[140,3.8],[160,3.95],[180,4.05],[200,4.1],[203,3.9],[206,4.1],[220,4.2],[240,4.3],[260,4.35],[280,4.45],[300,4.5]];
const ant3TD3Band=[[50,1.8,2.2],[100,3.3,3.8],[150,4.1,4.5],[200,4.8,5.2],[250,5.4,5.8],[300,5.85,6.2]];
const ant3SACBand=[[0,-0.5,-0.4],[10,0.5,0.9],[20,1.0,1.6],[40,2.2,3.2],[60,3.3,4.5],[80,4.2,5.1],[100,4.9,5.5],[150,5.7,6.2],[200,6.1,6.6],[250,6.4,6.9],[300,6.7,7.0]];
const ant3PPOBand=[[0,-5.6,-5.4],[2,-2.0,-1.6],[10,-0.7,-0.3],[20,0.1,0.5],[50,1.7,2.2],[100,3.15,3.65],[150,3.6,4.1],[200,3.85,4.35],[250,4.05,4.6],[300,4.2,4.8]];

// ---------- Hopper (row 3) ----------
const hop3DDPG=[[0,-0.2],[2,0.0],[4,-0.3],[6,-1.3],[8,-0.5],[10,-0.7],[12,0.0],[15,0.14],[18,0.55],[20,0.3],[22,1.37],[25,1.5],[28,1.8],[31,1.7],[34,2.1],[37,1.9],[40,2.3],[43,2.4],[46,2.2],[49,2.6],[52,2.6],[55,2.4],[58,2.8],[61,2.7],[64,2.9],[67,2.75],[70,3.1],[73,2.9],[76,3.05],[80,3.2],[85,3.1],[90,3.3],[95,3.1],[100,3.4],[105,3.3],[110,3.5],[115,3.2],[120,3.5],[125,3.4],[130,3.6],[135,3.1],[140,3.6],[145,3.5],[150,3.7],[155,3.5],[160,3.65],[165,3.8],[170,3.6],[175,3.75],[180,3.5],[185,3.8],[190,3.7],[195,3.9],[200,3.6],[205,3.85],[210,3.7],[215,3.9],[220,3.6],[225,3.85],[230,3.95],[235,3.7],[240,3.9],[245,3.8],[250,3.95],[255,3.7],[260,3.9],[265,3.8],[270,4.0],[275,3.85],[280,4.0],[285,3.9],[290,3.95],[295,4.05],[300,4.0]];
const hop3TD3=[[0,-0.2],[2,0.0],[4,0.5],[6,1.5],[8,2.2],[10,2.6],[12,3.0],[15,3.1],[20,3.25],[23,3.3],[25,3.0],[27,3.35],[30,3.4],[40,3.45],[50,3.5],[53,3.5],[55,3.25],[57,3.52],[60,3.55],[70,3.6],[80,3.7],[100,3.8],[120,3.9],[140,3.98],[160,4.05],[180,4.1],[200,4.15],[220,4.2],[240,4.25],[260,4.28],[266,4.3],[268,3.8],[270,4.33],[280,4.36],[300,4.38]];
const hop3SAC=[[0,0.9],[2,0.4],[4,1.0],[6,2.0],[8,2.5],[10,2.8],[12,3.0],[15,3.1],[18,2.9],[20,3.2],[25,3.3],[30,3.35],[35,3.3],[40,3.45],[45,3.4],[50,3.5],[55,3.45],[60,3.55],[70,3.6],[80,3.65],[90,3.7],[100,3.72],[120,3.78],[140,3.82],[160,3.86],[180,3.9],[200,3.93],[220,3.96],[240,3.98],[260,4.0],[270,4.02],[280,4.05],[300,4.1]];
const hop3PPO=[[0,-3.2],[1,-1.0],[2,0.5],[4,1.2],[6,1.6],[8,1.9],[10,2.1],[15,2.4],[20,2.6],[25,2.75],[30,2.85],[40,3.0],[50,3.1],[60,3.18],[70,3.25],[80,3.3],[90,3.35],[100,3.38],[120,3.42],[140,3.46],[160,3.5],[180,3.52],[200,3.53],[220,3.55],[240,3.55],[260,3.56],[280,3.56],[300,3.55]];
const hop3DDPGBand=[[0,-0.3,0],[4,-1.0,0.3],[6,-2.2,-0.3],[10,-1.4,0.2],[15,-0.5,1.0],[20,0.0,1.4],[30,1.5,2.5],[50,2.4,3.2],[100,3.0,3.7],[150,3.3,3.95],[200,3.35,4.0],[250,3.5,4.1],[300,3.7,4.2]];
const hop3PPOBand=[[0,-3.3,-3.1],[2,0.3,0.7],[6,1.45,1.75],[10,1.95,2.25],[20,2.5,2.7],[100,3.3,3.48],[300,3.45,3.65]];

// ---------- Humanoid (row 3) ----------
const hum3DDPG=[[0,0.5],[2,-0.5],[4,-1.5],[6,0.0],[8,1.0],[10,1.9],[12,2.2],[15,1.8],[18,2.1],[20,2.0],[22,0.8],[25,2.3],[30,2.5],[35,2.2],[40,2.6],[45,2.8],[50,2.5],[55,2.9],[60,3.2],[65,3.0],[70,2.7],[75,2.9],[80,2.6],[85,3.0],[90,3.1],[95,2.9],[100,3.5],[105,3.0],[110,3.3],[115,3.6],[120,3.1],[125,3.9],[130,3.3],[135,3.6],[140,4.0],[145,3.5],[150,4.3],[155,3.8],[160,4.0],[165,3.4],[170,4.1],[175,3.7],[180,4.2],[185,3.9],[190,3.5],[195,4.2],[200,3.8],[205,4.4],[210,3.9],[215,3.6],[220,4.1],[225,3.8],[230,3.2],[235,3.9],[240,4.0],[245,3.7],[250,4.2],[255,4.0],[260,4.5],[265,4.0],[270,4.2],[275,3.8],[280,4.0],[285,4.1],[290,3.9],[295,3.95],[300,3.9]];
const hum3TD3=[[0,0.5],[2,3.5],[4,3.2],[6,3.6],[8,4.0],[10,4.3],[15,4.6],[20,4.8],[25,4.85],[30,4.8],[35,4.9],[40,4.85],[45,4.95],[50,4.9],[55,4.5],[57,4.95],[60,5.0],[70,5.02],[80,5.05],[100,5.1],[120,5.15],[140,5.2],[160,5.22],[180,5.25],[200,5.27],[220,5.28],[240,5.3],[260,5.32],[280,5.33],[300,5.33]];
const hum3SAC=[[0,1.8],[2,4.0],[4,4.6],[6,4.8],[8,4.9],[10,5.0],[15,5.1],[20,5.15],[25,5.18],[30,5.2],[40,5.22],[50,5.25],[60,5.27],[80,5.3],[100,5.33],[120,5.38],[140,5.42],[160,5.48],[180,5.53],[200,5.58],[220,5.63],[240,5.7],[260,5.75],[280,5.8],[300,5.85]];
const hum3PPO=[[0,0.3],[1,2.5],[2,3.5],[4,4.2],[6,4.5],[8,4.7],[10,4.85],[15,5.05],[20,5.2],[25,5.3],[30,5.4],[40,5.55],[50,5.68],[60,5.8],[70,5.9],[80,6.0],[90,6.08],[100,6.15],[120,6.28],[140,6.4],[160,6.5],[180,6.58],[200,6.65],[220,6.7],[240,6.75],[260,6.8],[280,6.83],[300,6.85]];
const hum3DDPGBand=[[0,0.3,0.7],[2,-1.5,0.5],[4,-2.5,0.0],[6,-1.2,1.0],[10,0.5,3.0],[20,0.8,3.2],[50,1.3,3.6],[100,1.6,4.2],[150,1.9,4.8],[200,2.1,5.3],[250,2.3,5.5],[300,2.6,5.4]];

// ---------- Walker2d (row 3) ----------
const walk3DDPG=[[0,0.0],[2,0.1],[4,-0.5],[6,-0.85],[8,0.0],[10,0.6],[12,1.0],[15,1.3],[18,1.6],[20,1.5],[25,1.9],[30,2.2],[35,2.4],[40,2.6],[45,2.7],[50,2.8],[55,2.9],[60,3.0],[70,3.1],[80,3.2],[90,3.3],[100,3.35],[110,3.4],[120,3.45],[130,3.3],[140,3.5],[150,3.55],[160,3.6],[170,3.65],[180,3.5],[190,3.7],[200,3.75],[210,3.8],[220,3.85],[230,3.9],[240,3.95],[250,3.85],[260,4.0],[270,4.05],[280,4.1],[290,4.0],[300,4.15]];
const walk3TD3=[[0,0.0],[2,0.0],[4,0.0],[6,0.0],[8,0.05],[10,0.1],[12,0.4],[14,0.0],[16,-1.2],[18,0.3],[20,1.0],[22,0.8],[25,1.5],[30,1.9],[35,2.1],[40,2.3],[45,2.4],[50,2.5],[60,2.7],[70,2.85],[80,2.95],[90,3.05],[100,3.0],[105,2.8],[110,3.2],[120,3.3],[130,3.4],[140,3.5],[150,3.55],[160,3.6],[170,3.65],[180,3.7],[190,3.6],[195,3.2],[200,3.75],[210,3.8],[220,3.85],[230,3.9],[240,3.95],[250,4.0],[260,3.9],[270,4.05],[280,4.1],[290,4.0],[300,4.2]];
const walk3SAC=[[0,0.1],[2,0.3],[4,0.6],[6,0.8],[8,1.0],[10,1.2],[15,1.5],[20,1.9],[25,2.2],[30,2.5],[35,2.75],[40,2.9],[45,3.0],[50,3.05],[55,3.1],[60,3.2],[65,3.0],[70,3.3],[75,3.1],[80,3.35],[85,3.4],[90,3.5],[95,3.3],[100,3.55],[105,3.6],[110,3.5],[115,3.65],[120,3.6],[125,3.4],[130,3.7],[135,3.6],[140,3.75],[145,3.4],[150,3.8],[155,3.7],[160,3.85],[165,3.5],[170,3.8],[175,3.65],[180,3.9],[185,3.3],[190,3.85],[195,3.95],[200,3.75],[205,3.9],[210,3.95],[215,3.8],[220,4.0],[225,3.9],[230,4.05],[235,3.85],[240,4.1],[245,4.0],[250,4.15],[255,3.9],[260,4.15],[265,4.05],[270,4.2],[275,4.1],[280,4.2],[285,4.15],[290,4.25],[295,4.2],[300,4.3]];
const walk3PPO=[[0,-3.6],[1,-1.0],[2,0.2],[4,0.9],[6,1.3],[8,1.55],[10,1.75],[15,2.0],[20,2.2],[25,2.4],[30,2.55],[40,2.8],[50,3.0],[60,3.15],[70,3.3],[80,3.4],[90,3.5],[100,3.6],[120,3.75],[140,3.88],[160,4.0],[180,4.1],[200,4.2],[220,4.3],[240,4.38],[260,4.45],[280,4.5],[300,4.55]];
const walk3PPOBand=[[0,-3.7,-3.5],[2,0.0,0.4],[5,1.0,1.3],[10,1.6,1.9],[50,2.8,3.2],[100,3.45,3.8],[150,3.8,4.15],[200,4.05,4.4],[250,4.3,4.65],[300,4.4,4.75]];

// ---------- layout ----------
const panels = [
 {title:'HumanoidStandup', tx:103, ty:190, g:[23.7,8,176,132], y:[28.8,145.3], ticks:hsYTicks, dec:0, lines:[hsDDPG,hsTD3,hsSAC,hsPPO], bands:[hsDDPGBand,hsTD3Band,hsSACBand,hsPPOBand]},
 {title:'Pusher', tx:313, ty:190, g:[237,8,176,132], y:[-2.127,-0.107], ticks:puYTicks, dec:1, lines:[puDDPG,puTD3,puSAC,puPPO], bands:[]},
 {title:'Reacher', tx:526, ty:190, g:[450.3,8,176.4,132], y:[-1.209,-0.027], ticks:reYTicks, dec:1, lines:[reDDPG,reTD3,reSAC,rePPO], bands:[reDDPGBand]},
 {title:'Swimmer', tx:736, ty:190, g:[667,8,174,132], y:[-0.0177,0.1821], ticks:swYTicks, dec:3, lines:[swDDPG,swTD3,swSAC,swPPO], bands:[swDDPGBand,swTD3Band,swSACBand,swPPOBand]},
 {title:'SpecialAnt', tx:934, ty:190, g:[871.7,8,183.3,131.5], y:[-1.617,3.3], ticks:saYTicks, dec:0, lines:[saDDPG,saTD3,saSAC,saPPO], bands:[saDDPGBand,saTD3Band,saSACBand,saPPOBand], legend:[997,85]},
 {title:'HalfCheetah', tx:104, ty:407, g:[26.15,223,179.3,133], y:[-1.195,15.9], ticks:hc2YTicks, dec:1, lines:[hc2DDPG,hc2TD3,hc2SAC,hc2PPO], bands:[hc2DDPGBand,hc2TD3Band,hc2SACBand,hc2PPOBand]},
 {title:'Ant', tx:316, ty:407, g:[227.4,212.3,189.5,142.7], y:[-1.74,8.48], ticks:ant2YTicks, dec:0, lines:[ant2DDPG,ant2TD3,ant2SAC,ant2PPO], bands:[null,ant2TD3Band,ant2SACBand,ant2PPOBand]},
 {title:'Hopper', tx:529, ty:407, g:[439.6,213.3,190.7,141], y:[0.167,4.467], ticks:hop2YTicks, dec:0, lines:[hop2DDPG,hop2TD3,hop2SAC,hop2PPO], bands:[null,hop2TD3Band]},
 {title:'Humanoid', tx:742, ty:407, g:[652.4,213.3,189.5,141], y:[4.167,8.515], ticks:hum2YTicks, dec:0, lines:[hum2DDPG,hum2TD3,hum2SAC,hum2PPO], bands:[hum2DDPGBand,hum2TD3Band,hum2SACBand]},
 {title:'Walker2d', tx:935, ty:407, g:[864.6,213.3,190.7,141], y:[-0.684,6.57], ticks:walk2YTicks, dec:0, lines:[walk2DDPG,walk2TD3,walk2SAC,walk2PPO], bands:[null,walk2TD3Band,walk2SACBand,walk2PPOBand], legend:[994,297]},
 {title:'HalfCheetah', tx:104, ty:617, g:[20.9,430,184.1,137.7], y:[-5.54,14.65], ticks:hc3YTicks, dec:0, lines:[hc3DDPG,hc3TD3,hc3SAC,hc3PPO], extra:[[2,hc3SACNoisy]], bands:[hc3DDPGBand,hc3TD3Band,null,hc3PPOBand]},
 {title:'Ant', tx:316, ty:617, g:[234,430,182.6,139.3], y:[-6.27,8.28], ticks:ant3YTicks, dec:0, lines:[ant3DDPG,ant3TD3,ant3SAC,ant3PPO], bands:[null,ant3TD3Band,ant3SACBand,ant3PPOBand]},
 {title:'Hopper', tx:529, ty:617, g:[446,430,184.1,136.7], y:[-3.54,4.86], ticks:hop3YTicks, dec:0, lines:[hop3DDPG,hop3TD3,hop3SAC,hop3PPO], bands:[hop3DDPGBand,null,null,hop3PPOBand]},
 {title:'Humanoid', tx:742, ty:617, g:[658.4,430.7,183.3,136], y:[-3.05,7.38], ticks:hum3YTicks, dec:0, lines:[hum3DDPG,hum3TD3,hum3SAC,hum3PPO], bands:[hum3DDPGBand]},
 {title:'Walker2d', tx:935, ty:617, g:[871.7,430.7,183.3,135.3], y:[-4.01,5.28], ticks:walk3YTicks, dec:0, lines:[walk3DDPG,walk3TD3,walk3SAC,walk3PPO], bands:[null,null,null,walk3PPOBand], legend:[996.7,510]}
];

function fmt(v, dec){ const s = Math.abs(v).toFixed(dec); return (v < -1e-9 ? '\u2212' : '') + s; }

function bandSeries(i, k, b) {
  return {type:'custom', name:'_band', coordinateSystem:'cartesian2d', xAxisIndex:i, yAxisIndex:i, silent:true, z:2, clip:true,
    encode:{x:0, y:[1,2]}, data:b,
    renderItem:function(params, api){
      if (params.dataIndex !== 0) return null;
      const pts = [];
      for (let j=0;j<b.length;j++) pts.push(api.coord([b[j][0], b[j][2]]));
      for (let j=b.length-1;j>=0;j--) pts.push(api.coord([b[j][0], b[j][1]]));
      return {type:'polygon', shape:{points:pts}, style:{fill:BAND_FILLS[k], stroke:null}};
    }};
}

const SMALL = {fontSize:8, fontFamily:'DejaVu Sans', color:'#222'};
const grids=[], xAxes=[], yAxes=[], series=[], legends=[], graphics=[];

panels.forEach((p, i) => {
  grids.push({left:p.g[0], top:p.g[1], width:p.g[2], height:p.g[3], containLabel:false});
  xAxes.push({type:'value', gridIndex:i, min:-15, max:315,
    axisLine:{show:true, onZero:false, lineStyle:{color:'#000', width:0.8}},
    axisTick:{show:true, customValues:X_TICKS, length:3, lineStyle:{color:'#000', width:0.8}},
    axisLabel:Object.assign({customValues:X_TICKS, margin:3}, SMALL),
    splitLine:{show:false},
    name:X_LABEL, nameLocation:'middle', nameGap:12, nameTextStyle:Object.assign({}, SMALL)});
  yAxes.push({type:'value', gridIndex:i, min:p.y[0], max:p.y[1],
    axisLine:{show:true, onZero:false, lineStyle:{color:'#000', width:0.8}},
    axisTick:{show:true, customValues:p.ticks, length:3, lineStyle:{color:'#000', width:0.8}},
    axisLabel:Object.assign({customValues:p.ticks, margin:4, formatter:(v)=>fmt(v,p.dec)}, SMALL),
    splitLine:{show:true, lineStyle:{color:'#c8c8c8', type:[2,2], width:0.8}}});
  (p.bands||[]).forEach((b, k) => { if (b) series.push(bandSeries(i, k, b)); });
  p.lines.forEach((l, k) => {
    series.push({type:'line', name:ALGOS[k], xAxisIndex:i, yAxisIndex:i, data:l, symbol:'none', z:3,
      lineStyle:{width:1.2, color:COLORS[k]}, itemStyle:{color:COLORS[k]}});
  });
  (p.extra||[]).forEach(([k, l]) => {
    series.push({type:'line', name:ALGOS[k], xAxisIndex:i, yAxisIndex:i, data:l, symbol:'none', z:3,
      lineStyle:{width:1.2, color:COLORS[k]}, itemStyle:{color:COLORS[k]}});
  });
  if (p.legend) {
    legends.push({left:p.legend[0], top:p.legend[1], orient:'vertical', data:ALGOS, icon:'rect',
      itemWidth:17, itemHeight:2, itemGap:3, itemTextGap:7, padding:[2,4,2,3],
      borderColor:'#d0d0d0', borderWidth:0.8, borderRadius:2, backgroundColor:'rgba(255,255,255,0.85)',
      textStyle:{fontSize:7, fontFamily:'DejaVu Sans', color:'#222', lineHeight:9}, selectedMode:false});
  }
  graphics.push({type:'text', x:p.tx, y:p.ty, silent:true,
    style:{text:p.title, fontSize:24, fontFamily:'Liberation Serif', fill:'#000', align:'center', verticalAlign:'middle', textAlign:'center', textVerticalAlign:'middle'}});
});

const chart = echarts.init(document.getElementById('c'), null, {renderer:'canvas'});
chart.setOption({animation:false, backgroundColor:'#fff', grid:grids, xAxis:xAxes, yAxis:yAxes, series:series, legend:legends, graphic:graphics});
</script>
</body></html>
